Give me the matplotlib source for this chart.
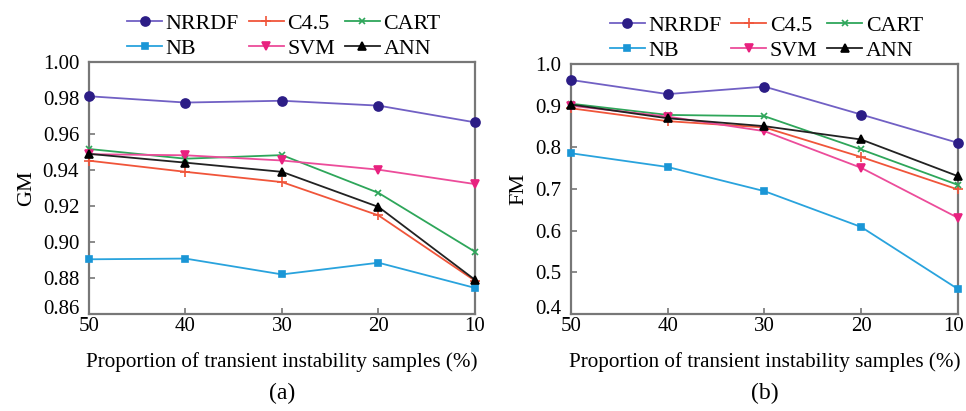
import matplotlib
matplotlib.use("Agg")
import matplotlib.pyplot as plt
from matplotlib.transforms import ScaledTranslation

plt.rcParams['font.family'] = ['Liberation Serif', 'DejaVu Serif']
plt.rcParams['mathtext.fontset'] = 'stix'

x = [50, 40, 30, 20, 10]
xticks = [50, 40, 30, 20, 10]

methods = ["NRRDF", "C4.5", "CART", "NB", "SVM", "ANN"]

gm_nrrdf = [0.981, 0.9775, 0.9785, 0.9758, 0.9665]
gm_c45 = [0.9452, 0.9390, 0.9333, 0.9148, 0.8785]
gm_cart = [0.9517, 0.9463, 0.9483, 0.9273, 0.8946]
gm_nb = [0.8904, 0.8908, 0.8820, 0.8885, 0.8745]
gm_svm = [0.9488, 0.9482, 0.9453, 0.9402, 0.9322]
gm_ann = [0.9490, 0.9441, 0.9390, 0.9195, 0.8790]

fm_nrrdf = [0.962, 0.928, 0.946, 0.879, 0.811]
fm_c45 = [0.894, 0.863, 0.848, 0.777, 0.699]
fm_cart = [0.905, 0.878, 0.875, 0.795, 0.710]
fm_nb = [0.786, 0.753, 0.695, 0.609, 0.460]
fm_svm = [0.900, 0.874, 0.839, 0.751, 0.631]
fm_ann = [0.903, 0.870, 0.851, 0.819, 0.731]

gm_ticks = [0.86, 0.88, 0.90, 0.92, 0.94, 0.96, 0.98, 1.00]
fm_ticks = [0.4, 0.5, 0.6, 0.7, 0.8, 0.9, 1.0]

styles = {
    "NRRDF": dict(color="#7160c4", marker="o", mfc="#2c1d86", mec="#2c1d86", ms=6.5),
    "C4.5": dict(color="#f0553a", marker="+", mfc="#f0553a", mec="#f0553a", ms=6.5),
    "CART": dict(color="#2ea65a", marker="x", mfc="#2ea65a", mec="#2ea65a", ms=4.5),
    "NB": dict(color="#29a3dd", marker="s", mfc="#1a96d6", mec="#1a96d6", ms=4.5),
    "SVM": dict(color="#ec4c9a", marker="v", mfc="#e8217f", mec="#e8217f", ms=5.5),
    "ANN": dict(color="#222222", marker="^", mfc="#000000", mec="#000000", ms=5.5),
}

fig = plt.figure(figsize=(9.66, 4.11), dpi=100)
ax1 = fig.add_axes([0.0921, 0.236, 0.3996, 0.613])
ax2 = fig.add_axes([0.591, 0.236, 0.4006, 0.608])

def draw(ax, data, yticks, ylim, ylabel, fmt):
    handles = {}
    for name, vals in zip(methods, data):
        st = styles[name]
        h, = ax.plot(x, vals, color=st["color"], lw=1.3, marker=st["marker"],
                     mfc=st["mfc"], mec=st["mec"], ms=st["ms"], mew=1.2,
                     label=name, clip_on=False, zorder=3)
        handles[name] = h
    ax.set_xlim(50, 10)
    ax.set_ylim(*ylim)
    ax.set_xticks(xticks)
    ax.set_xticklabels([str(t) for t in xticks])
    ax.set_yticks(yticks)
    ax.set_yticklabels([fmt.format(t) for t in yticks])
    for s in ax.spines.values():
        s.set_color("#777777")
        s.set_linewidth(1.6)
    ax.tick_params(direction="in", length=4, width=1.2, color="#777777",
                   labelsize=15)
    ax.tick_params(axis="y", pad=7)
    ax.tick_params(axis="x", pad=2)
    # nudge bottom y tick label up (as in the reference)
    lbl = ax.get_yticklabels()[0]
    lbl.set_transform(lbl.get_transform() + ScaledTranslation(0, 5 / 72, fig.dpi_scale_trans))
    ax.set_ylabel(ylabel, fontsize=16, labelpad=5)
    ax.set_xlabel("Proportion of transient instability samples (%)", fontsize=15.2, labelpad=12)
    order = ["NRRDF", "NB", "C4.5", "SVM", "CART", "ANN"]
    ax.legend(handles=[handles[n] for n in order], labels=order, ncol=3,
              loc="lower center", bbox_to_anchor=(0.505, 0.965), frameon=False,
              fontsize=15.8, handlelength=1.6, handletextpad=0.15,
              columnspacing=0.45, labelspacing=0.2, borderaxespad=0.15)
    return ax

draw(ax1, [gm_nrrdf, gm_c45, gm_cart, gm_nb, gm_svm, gm_ann], gm_ticks,
     (0.86, 1.00), "GM", "{:.2f}")
draw(ax2, [fm_nrrdf, fm_c45, fm_cart, fm_nb, fm_svm, fm_ann], fm_ticks,
     (0.4, 1.0), "FM", "{:.1f}")

# keep the last x tick label of the right panel inside the figure
lbl = ax2.get_xticklabels()[-1]
lbl.set_transform(lbl.get_transform() + ScaledTranslation(-3 / 72, 0, fig.dpi_scale_trans))

fig.text((89 + 475) / 2 / 966, 1 - 393 / 411, "(a)", ha="center", va="center", fontsize=17)
fig.text((571 + 958) / 2 / 966, 1 - 393 / 411, "(b)", ha="center", va="center", fontsize=17)

fig.savefig("out.png", dpi=100)
